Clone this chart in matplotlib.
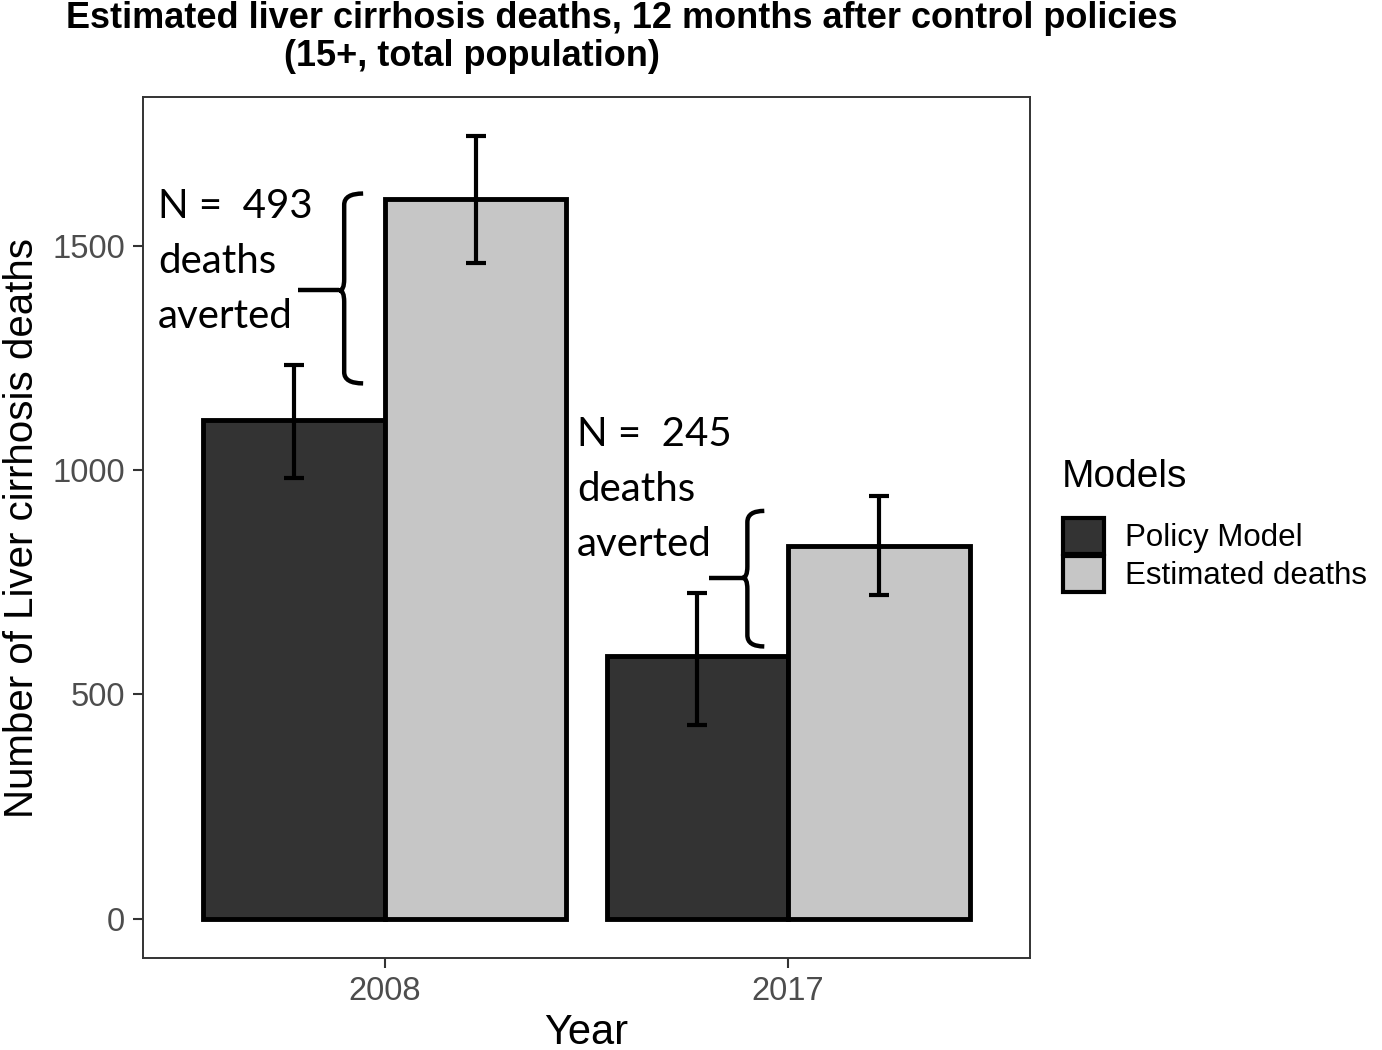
import matplotlib
matplotlib.use("Agg")
import matplotlib.pyplot as plt
import matplotlib.patches as mpatches
from matplotlib.path import Path
import numpy as np

years = ['2008', '2017']
models = ['Policy Model', 'Estimated deaths']
policy = [1111, 585]
policy_lo = [982, 433]
policy_hi = [1233, 727]
estimated = [1604, 830]
est_lo = [1462, 722]
est_hi = [1744, 942]
averted = [493, 245]

colors = ['#333333', '#C6C6C6']

plt.rcParams['font.family'] = ['Liberation Sans', 'DejaVu Sans']

fig = plt.figure(figsize=(13.82, 10.5), dpi=100)
ax = fig.add_axes([143/1382, 1 - 958/1050, (1030-143)/1382, (958-97)/1050])

x = np.arange(1, len(years) + 1)
w = 0.45
vals = [policy, estimated]
los = [policy_lo, est_lo]
his = [policy_hi, est_hi]
for i in range(2):
    xs = x + (i - 0.5) * w
    ax.bar(xs, vals[i], width=w, color=colors[i], edgecolor='black',
           linewidth=3.5, zorder=2, label=models[i])
for i in range(2):
    xs = x + (i - 0.5) * w
    v = np.array(vals[i])
    yerr = [v - np.array(los[i]), np.array(his[i]) - v]
    ax.errorbar(xs, v, yerr=yerr, fmt='none', ecolor='black', elinewidth=3,
                capsize=7, capthick=3, zorder=3)


def brace(ax, xr, xs, xstub, yt, yb, ym, r=25, dx=0.012):
    verts = [(xr, yt), (xs, yt), (xs, yt - r),
             (xs, ym + r), (xs, ym), (xs - dx, ym),
             (xs, ym), (xs, ym - r),
             (xs, yb + r), (xs, yb), (xr, yb)]
    codes = [Path.MOVETO, Path.CURVE3, Path.CURVE3,
             Path.LINETO, Path.CURVE3, Path.CURVE3,
             Path.CURVE3, Path.CURVE3,
             Path.LINETO, Path.CURVE3, Path.CURVE3]
    ax.add_patch(mpatches.PathPatch(Path(verts, codes), fill=False,
                                    lw=3.2, color='black', zorder=4))
    ax.plot([xstub, xs - dx], [ym, ym], color='black', lw=3.2, zorder=4,
            solid_capstyle='butt')


brace(ax, 0.946, 0.899, 0.785, 1616, 1193, 1400)
brace(ax, 1.941, 1.899, 1.805, 909, 607, 760)

note_font = ['Lato', 'DejaVu Sans']
ax.text(0.437, 1628, f'N =  {averted[0]}\ndeaths\naverted', va='top', ha='left',
        fontsize=29, family=note_font, linespacing=1.6, zorder=5)
ax.text(1.477, 1120, f'N =  {averted[1]}\ndeaths\naverted', va='top', ha='left',
        fontsize=29, family=note_font, linespacing=1.6, zorder=5)

ax.set_xlim(0.4, 2.6)
ax.set_ylim(-87, 1831)
ax.set_xticks(x)
ax.set_xticklabels(years)
ax.set_yticks([0, 500, 1000, 1500])
ax.tick_params(axis='both', labelsize=23.5, labelcolor='#4D4D4D', color='#333333',
               length=7, width=1.5, pad=6)
for s in ax.spines.values():
    s.set_linewidth(1.4)
    s.set_color('#333333')
ax.set_xlabel('Year', fontsize=30, labelpad=4)
ax.set_ylabel('Number of Liver cirrhosis deaths', fontsize=29, labelpad=8)

handles = [mpatches.Patch(facecolor=colors[i], edgecolor='black', linewidth=3,
                          label=models[i]) for i in range(2)]
fig.text(1062/1382, 1 - 477/1050, 'Models', ha='left', va='center', fontsize=28)
fig.legend(handles=handles, loc='upper left',
           bbox_to_anchor=(1041/1382, 1 - 496/1050), frameon=False,
           fontsize=22.5, handlelength=1.3, handleheight=1.4,
           labelspacing=0.05, handletextpad=0.7, borderpad=0.2)

title_font = ['Liberation Sans', 'DejaVu Sans']
fig.text(622/1382, 1 - 18/1050,
         'Estimated liver cirrhosis deaths, 12 months after control policies',
         ha='center', va='center', fontsize=26, fontweight='bold', family=title_font)
fig.text(472/1382, 1 - 57/1050, '(15+, total population)',
         ha='center', va='center', fontsize=26, fontweight='bold', family=title_font)

fig.savefig('out.png', dpi=100)
